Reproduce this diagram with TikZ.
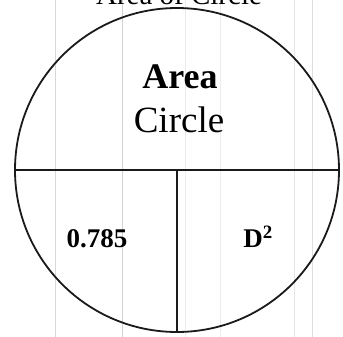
\documentclass[tikz,border=0pt]{standalone}
\usepackage{fontspec}
\setmainfont{Liberation Serif}
\definecolor{gridgray}{HTML}{c8c8c8}
\definecolor{inkblack}{HTML}{1a1a1a}

\begin{document}
\begin{tikzpicture}[x=1bp,y=-1bp]
  \useasboundingbox (0,0) rectangle (343,337);
  \fill[white] (0,0) rectangle (343,337);
  % faint paper lines
  \foreach \gx/\gs in {55/70,122/80,185/35,220/35,294/45,312/60}
    \draw[gridgray!\gs,line width=0.8bp] (\gx,0) -- (\gx,337);
  \node[draw=inkblack,line width=1.8bp,circle,minimum size=324bp,inner sep=0pt] (disc) at (177,170) {};
  \draw[inkblack,line width=1.8bp] (disc.west) -- (disc.east);
  \draw[inkblack,line width=1.6bp] (disc.center) -- (disc.south);
  \node[anchor=base,inner sep=0pt,font=\fontsize{29bp}{29bp}\selectfont] (title) at (179,4) {Area of Circle};
  \node[anchor=base,inner sep=0pt,font=\fontsize{36bp}{36bp}\selectfont\bfseries] (area) at (180,88) {Area};
  \node[anchor=base,inner sep=0pt,font=\fontsize{37bp}{37bp}\selectfont] (circ) at (179,132) {Circle};
  \node[anchor=base,inner sep=0pt,font=\fontsize{27bp}{27bp}\selectfont\bfseries] (pi4) at (97,247) {0.785};
  \node[anchor=base,inner sep=0pt,font=\fontsize{27bp}{27bp}\selectfont\bfseries] (dsq) at (258,247) {D\textsuperscript{2}};
\end{tikzpicture}
\end{document}
